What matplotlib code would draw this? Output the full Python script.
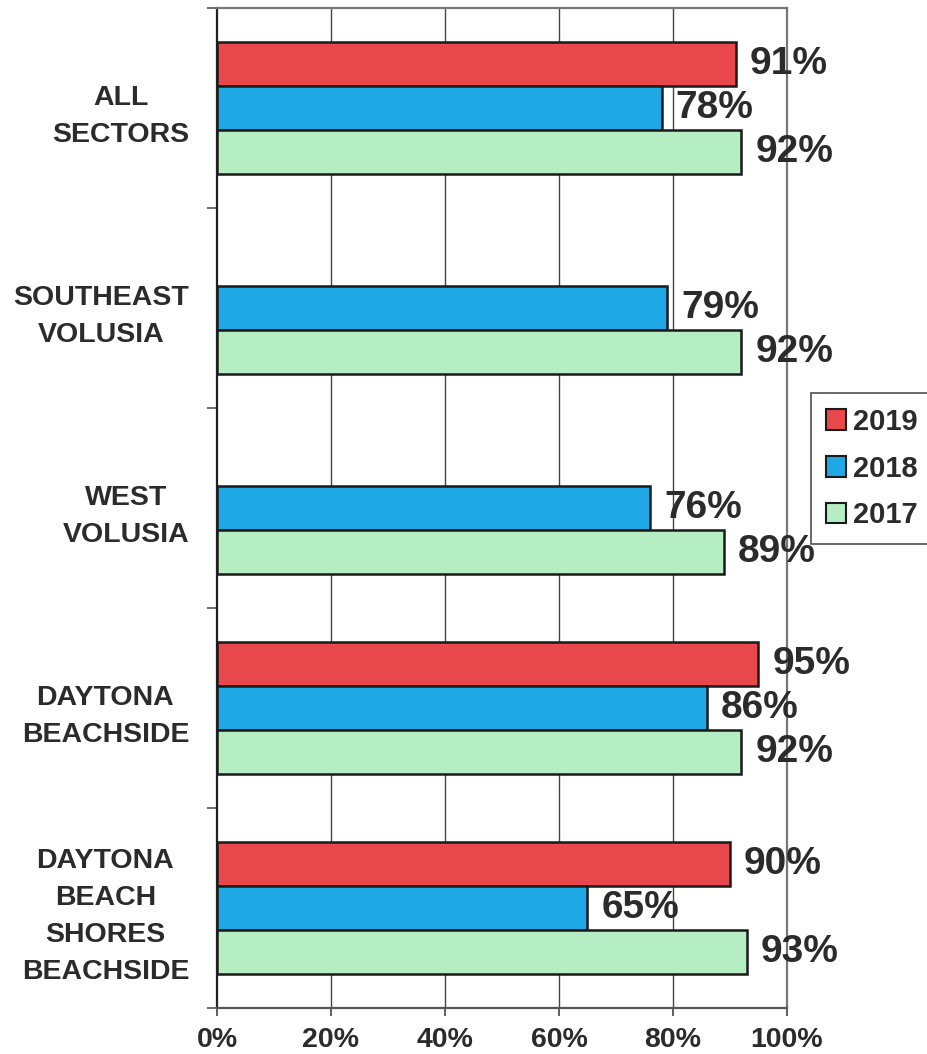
import numpy as np
import matplotlib
matplotlib.use('Agg')
import matplotlib.pyplot as plt
from matplotlib.patches import Patch

plt.rcParams['font.family'] = ['Liberation Sans', 'DejaVu Sans']

### DATA
sectors = ['ALL\nSECTORS', 'SOUTHEAST\nVOLUSIA', 'WEST\nVOLUSIA',
           'DAYTONA\nBEACHSIDE', 'DAYTONA\nBEACH\nSHORES\nBEACHSIDE']
years = ['2019', '2018', '2017']
pct_2019 = [91, np.nan, np.nan, 95, 90]
pct_2018 = [78, 79, 76, 86, 65]
pct_2017 = [92, 92, 89, 92, 93]
x_ticks = [0, 20, 40, 60, 80, 100]
x_ticklabels = ['0%', '20%', '40%', '60%', '80%', '100%']

colors = ['#E8474C', '#1EA9E6', '#B5EEC3']

fig = plt.figure(figsize=(9.28, 10.54), dpi=100)
ax = fig.add_axes([217 / 928, 1 - 1008 / 1054, (787 - 217) / 928, 1000 / 1054])

y = np.arange(len(sectors))
h = 0.22
series = [pct_2019, pct_2018, pct_2017]
for i, (vals, col) in enumerate(zip(series, colors)):
    pos = y + (i - 1) * h
    vals = np.array(vals, dtype=float)
    ok = ~np.isnan(vals)
    ax.barh(pos[ok], vals[ok], height=h, color=col, edgecolor='#1a1a1a',
            linewidth=1.8, zorder=3)
    for p, v in zip(pos[ok], vals[ok]):
        ax.annotate('%d%%' % v, (v, p), xytext=(10, 0), textcoords='offset points',
                    ha='left', va='center', fontsize=28, fontweight='bold',
                    color='#2b2b2b', zorder=4)

ax.set_xlim(0, 100)
ax.set_ylim(len(sectors) - 0.5, -0.5)

# x axis
ax.set_xticks(x_ticks)
ax.set_xticklabels(x_ticklabels, fontsize=20.5, fontweight='bold', color='#2b2b2b')
ax.tick_params(axis='x', direction='out', length=6, width=1.2, color='#444444', pad=8)
for gx in x_ticks[1:-1]:
    ax.axvline(gx, color='#444444', linewidth=1.0, zorder=1)

# y axis: labels centered on groups, ticks on boundaries
ax.set_yticks(y)
ax.set_yticklabels(sectors, fontsize=20.5, fontweight='bold', color='#2b2b2b',
                   multialignment='center', linespacing=1.55)
ax.tick_params(axis='y', length=0, pad=20)
ax.set_yticks(np.arange(len(sectors) + 1) - 0.5, minor=True)
ax.tick_params(axis='y', which='minor', direction='out', length=7, width=1.2, color='#555555')

ax.spines['left'].set_color('#222222')
ax.spines['left'].set_linewidth(1.6)
ax.spines['bottom'].set_color('#555555')
ax.spines['bottom'].set_linewidth(1.6)
ax.spines['top'].set_color('#777777')
ax.spines['top'].set_linewidth(1.6)
ax.spines['right'].set_color('#777777')
ax.spines['right'].set_linewidth(1.6)

handles = [Patch(facecolor=c, edgecolor='#1a1a1a', linewidth=1.5) for c in colors]
leg = fig.legend(handles, years, loc='upper left', bbox_to_anchor=(811 / 928, 1 - 393 / 1054),
                 frameon=True, fancybox=False, edgecolor='#222222',
                 prop={'weight': 'bold', 'size': 21}, handlelength=0.7, handleheight=0.7,
                 handletextpad=0.25, labelspacing=0.65, borderpad=0.5, borderaxespad=0)
leg.get_frame().set_linewidth(1.2)
for t in leg.get_texts():
    t.set_color('#2b2b2b')

fig.savefig('out.png', dpi=100)
